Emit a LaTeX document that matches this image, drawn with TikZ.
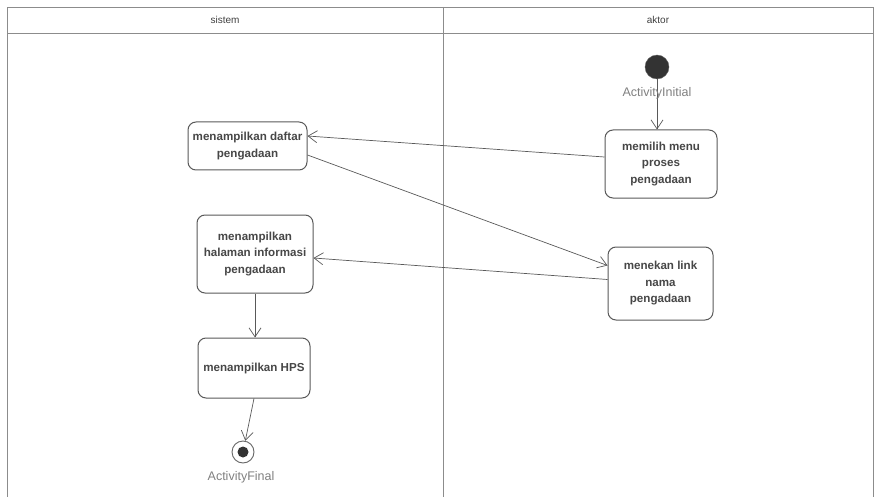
\documentclass[tikz,border=0pt]{standalone}
\usepackage{fontspec}
\setmainfont{Liberation Sans}
\usetikzlibrary{
  positioning,
  arrows.meta
}

\begin{document}
\begin{tikzpicture}[x=1pt,y=-1pt,
    aksi/.style={draw=black!65, line width=1pt, rounded corners=8pt, fill=white,
      align=center, text=black!72, font=\fontsize{11.6}{16.5}\selectfont\bfseries,
      inner sep=1pt},
    alur/.style={draw=black!65, line width=0.7pt, -{Straight Barb[length=9pt,width=12pt,line width=0.7pt]}},
    garis/.style={draw=black!45, line width=0.7pt},
    ket/.style={text=black!50, font=\fontsize{12.5}{14}\selectfont}
  ]
      \useasboundingbox (0,0) rectangle (877,497);
      % swimlanes
      \draw[garis] (7,500) -- (7,7) -- (873,7) -- (873,500);
      \draw[garis] (7,33) -- (873,33);
      \draw[garis] (443,7) -- (443,500);
      \node[ket, text=black!75, font=\fontsize{10}{12}\selectfont] (lanesistem) at (225,20) {sistem};
      \node[ket, text=black!75, font=\fontsize{10}{12}\selectfont] (laneaktor) at (658,20) {aktor};

      % start and end
      \node[circle, fill=black!80, draw=black!60, minimum size=24pt, inner sep=0pt] (awal) at (657,67) {};
      \node[circle, draw=black!60, line width=0.9pt, minimum size=22pt, inner sep=0pt] (akhir) at (243,452) {};
      \fill[black!80] (akhir) circle (5.5pt);

      % activities
      \node[aksi, minimum width=119pt, minimum height=48pt] (daftar) at (247.5,146) {menampilkan daftar\\pengadaan};
      \node[aksi, minimum width=112pt, minimum height=68pt] (memilih) at (661,164) {memilih menu\\proses\\pengadaan};
      \node[aksi, minimum width=105pt, minimum height=73pt] (menekan) at (660.5,283.5) {menekan link\\nama\\pengadaan};
      \node[aksi, minimum width=116pt, minimum height=78pt] (halaman) at (255,254) {menampilkan\\halaman informasi\\pengadaan};
      \node[aksi, minimum width=112pt, minimum height=60pt] (hps) at (254,368) {menampilkan HPS};

      % transitions
      \draw[alur] (awal) -- (awal |- memilih.north);
      \draw[alur] ([yshift=7pt]memilih.west) -- ([yshift=10pt]daftar.east);
      \draw[alur] ([yshift=-9pt]daftar.east) -- ([yshift=18pt]menekan.west);
      \draw[alur] ([yshift=4pt]menekan.west) -- ([yshift=-4pt]halaman.east);
      \draw[alur] (halaman.south) -- (halaman.south |- hps.north);
      \draw[alur] (hps.south) -- (akhir);

      \node[ket] (lblawal) at (657,93) {ActivityInitial};
      \node[ket] (lblakhir) at (241,477) {ActivityFinal};
\end{tikzpicture}
\end{document}
